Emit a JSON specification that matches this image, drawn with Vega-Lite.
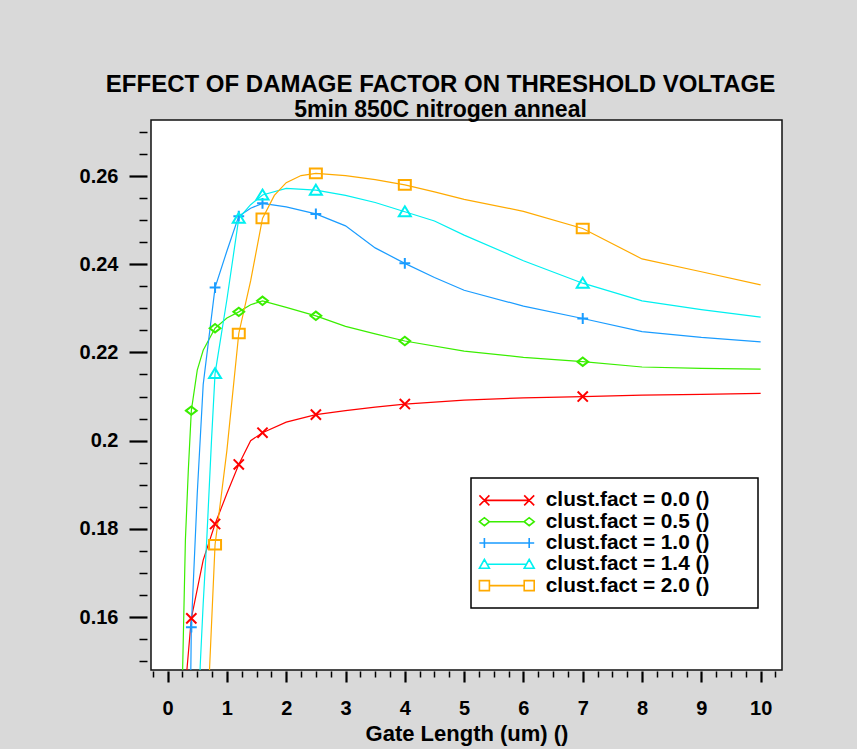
{
  "$schema": "https://vega.github.io/schema/vega-lite/v6.json",
  "autosize": {"type": "none"},
  "padding": {"left": 151, "top": 120, "right": 75, "bottom": 79},
  "width": 631,
  "height": 550,
  "background": "#D9D9D9",
  "title": {
    "text": "EFFECT OF DAMAGE FACTOR ON THRESHOLD VOLTAGE",
    "subtitle": "5min 850C nitrogen anneal",
    "font": "Liberation Sans",
    "subtitleFont": "Liberation Sans",
    "fontSize": 24,
    "subtitleFontSize": 23,
    "fontWeight": "bold",
    "subtitleFontWeight": "bold",
    "color": "black",
    "subtitleColor": "black",
    "anchor": "middle",
    "dx": -26,
    "offset": -2,
    "subtitlePadding": 2
  },
  "datasets": {
    "curves": [
      {"series": "clust.fact = 0.0 ()", "length": 0.3, "vt": 0.144},
      {"series": "clust.fact = 0.0 ()", "length": 0.4, "vt": 0.1597},
      {"series": "clust.fact = 0.0 ()", "length": 0.6, "vt": 0.1729},
      {"series": "clust.fact = 0.0 ()", "length": 0.8, "vt": 0.1811},
      {"series": "clust.fact = 0.0 ()", "length": 1.0, "vt": 0.188},
      {"series": "clust.fact = 0.0 ()", "length": 1.2, "vt": 0.1946},
      {"series": "clust.fact = 0.0 ()", "length": 1.4, "vt": 0.2},
      {"series": "clust.fact = 0.0 ()", "length": 1.6, "vt": 0.2018},
      {"series": "clust.fact = 0.0 ()", "length": 2.0, "vt": 0.2042},
      {"series": "clust.fact = 0.0 ()", "length": 2.5, "vt": 0.2059},
      {"series": "clust.fact = 0.0 ()", "length": 3.0, "vt": 0.2068},
      {"series": "clust.fact = 0.0 ()", "length": 3.5, "vt": 0.2076},
      {"series": "clust.fact = 0.0 ()", "length": 4.0, "vt": 0.2083},
      {"series": "clust.fact = 0.0 ()", "length": 5.0, "vt": 0.2092},
      {"series": "clust.fact = 0.0 ()", "length": 6.0, "vt": 0.2097},
      {"series": "clust.fact = 0.0 ()", "length": 7.0, "vt": 0.21},
      {"series": "clust.fact = 0.0 ()", "length": 8.0, "vt": 0.2103},
      {"series": "clust.fact = 0.0 ()", "length": 9.0, "vt": 0.2105},
      {"series": "clust.fact = 0.0 ()", "length": 10.0, "vt": 0.2107},

      {"series": "clust.fact = 0.5 ()", "length": 0.25, "vt": 0.146},
      {"series": "clust.fact = 0.5 ()", "length": 0.3, "vt": 0.1775},
      {"series": "clust.fact = 0.5 ()", "length": 0.35, "vt": 0.1935},
      {"series": "clust.fact = 0.5 ()", "length": 0.4, "vt": 0.2068},
      {"series": "clust.fact = 0.5 ()", "length": 0.5, "vt": 0.216},
      {"series": "clust.fact = 0.5 ()", "length": 0.6, "vt": 0.2205},
      {"series": "clust.fact = 0.5 ()", "length": 0.8, "vt": 0.2255},
      {"series": "clust.fact = 0.5 ()", "length": 1.0, "vt": 0.2278},
      {"series": "clust.fact = 0.5 ()", "length": 1.2, "vt": 0.2292},
      {"series": "clust.fact = 0.5 ()", "length": 1.4, "vt": 0.2308},
      {"series": "clust.fact = 0.5 ()", "length": 1.6, "vt": 0.2317},
      {"series": "clust.fact = 0.5 ()", "length": 2.0, "vt": 0.2302},
      {"series": "clust.fact = 0.5 ()", "length": 2.5, "vt": 0.2283},
      {"series": "clust.fact = 0.5 ()", "length": 3.0, "vt": 0.2259},
      {"series": "clust.fact = 0.5 ()", "length": 3.5, "vt": 0.2242},
      {"series": "clust.fact = 0.5 ()", "length": 4.0, "vt": 0.2226},
      {"series": "clust.fact = 0.5 ()", "length": 5.0, "vt": 0.2203},
      {"series": "clust.fact = 0.5 ()", "length": 6.0, "vt": 0.2189},
      {"series": "clust.fact = 0.5 ()", "length": 7.0, "vt": 0.2179},
      {"series": "clust.fact = 0.5 ()", "length": 8.0, "vt": 0.2167},
      {"series": "clust.fact = 0.5 ()", "length": 9.0, "vt": 0.2164},
      {"series": "clust.fact = 0.5 ()", "length": 10.0, "vt": 0.2162},

      {"series": "clust.fact = 1.0 ()", "length": 0.38, "vt": 0.135},
      {"series": "clust.fact = 1.0 ()", "length": 0.4, "vt": 0.1577},
      {"series": "clust.fact = 1.0 ()", "length": 0.5, "vt": 0.188},
      {"series": "clust.fact = 1.0 ()", "length": 0.6, "vt": 0.2127},
      {"series": "clust.fact = 1.0 ()", "length": 0.8, "vt": 0.2347},
      {"series": "clust.fact = 1.0 ()", "length": 1.0, "vt": 0.243},
      {"series": "clust.fact = 1.0 ()", "length": 1.2, "vt": 0.2509},
      {"series": "clust.fact = 1.0 ()", "length": 1.4, "vt": 0.2527},
      {"series": "clust.fact = 1.0 ()", "length": 1.6, "vt": 0.2538},
      {"series": "clust.fact = 1.0 ()", "length": 2.0, "vt": 0.253},
      {"series": "clust.fact = 1.0 ()", "length": 2.5, "vt": 0.2514},
      {"series": "clust.fact = 1.0 ()", "length": 3.0, "vt": 0.2487},
      {"series": "clust.fact = 1.0 ()", "length": 3.5, "vt": 0.2437},
      {"series": "clust.fact = 1.0 ()", "length": 4.0, "vt": 0.2402},
      {"series": "clust.fact = 1.0 ()", "length": 4.5, "vt": 0.237},
      {"series": "clust.fact = 1.0 ()", "length": 5.0, "vt": 0.2341},
      {"series": "clust.fact = 1.0 ()", "length": 6.0, "vt": 0.2305},
      {"series": "clust.fact = 1.0 ()", "length": 7.0, "vt": 0.2277},
      {"series": "clust.fact = 1.0 ()", "length": 8.0, "vt": 0.2247},
      {"series": "clust.fact = 1.0 ()", "length": 9.0, "vt": 0.2234},
      {"series": "clust.fact = 1.0 ()", "length": 10.0, "vt": 0.2224},

      {"series": "clust.fact = 1.4 ()", "length": 0.52, "vt": 0.135},
      {"series": "clust.fact = 1.4 ()", "length": 0.55, "vt": 0.149},
      {"series": "clust.fact = 1.4 ()", "length": 0.6, "vt": 0.163},
      {"series": "clust.fact = 1.4 ()", "length": 0.66, "vt": 0.1775},
      {"series": "clust.fact = 1.4 ()", "length": 0.74, "vt": 0.2},
      {"series": "clust.fact = 1.4 ()", "length": 0.8, "vt": 0.2152},
      {"series": "clust.fact = 1.4 ()", "length": 1.0, "vt": 0.232},
      {"series": "clust.fact = 1.4 ()", "length": 1.2, "vt": 0.2504},
      {"series": "clust.fact = 1.4 ()", "length": 1.4, "vt": 0.2535},
      {"series": "clust.fact = 1.4 ()", "length": 1.6, "vt": 0.2557},
      {"series": "clust.fact = 1.4 ()", "length": 2.0, "vt": 0.2572},
      {"series": "clust.fact = 1.4 ()", "length": 2.5, "vt": 0.2568},
      {"series": "clust.fact = 1.4 ()", "length": 3.0, "vt": 0.2556},
      {"series": "clust.fact = 1.4 ()", "length": 3.5, "vt": 0.254},
      {"series": "clust.fact = 1.4 ()", "length": 4.0, "vt": 0.2519},
      {"series": "clust.fact = 1.4 ()", "length": 4.5, "vt": 0.2498},
      {"series": "clust.fact = 1.4 ()", "length": 5.0, "vt": 0.2466},
      {"series": "clust.fact = 1.4 ()", "length": 6.0, "vt": 0.2408},
      {"series": "clust.fact = 1.4 ()", "length": 7.0, "vt": 0.2357},
      {"series": "clust.fact = 1.4 ()", "length": 8.0, "vt": 0.2317},
      {"series": "clust.fact = 1.4 ()", "length": 9.0, "vt": 0.2297},
      {"series": "clust.fact = 1.4 ()", "length": 10.0, "vt": 0.228},

      {"series": "clust.fact = 2.0 ()", "length": 0.66, "vt": 0.135},
      {"series": "clust.fact = 2.0 ()", "length": 0.7, "vt": 0.146},
      {"series": "clust.fact = 2.0 ()", "length": 0.8, "vt": 0.1764},
      {"series": "clust.fact = 2.0 ()", "length": 0.9, "vt": 0.187},
      {"series": "clust.fact = 2.0 ()", "length": 1.0, "vt": 0.1978},
      {"series": "clust.fact = 2.0 ()", "length": 1.2, "vt": 0.2243},
      {"series": "clust.fact = 2.0 ()", "length": 1.4, "vt": 0.2362},
      {"series": "clust.fact = 2.0 ()", "length": 1.6, "vt": 0.2504},
      {"series": "clust.fact = 2.0 ()", "length": 1.8, "vt": 0.2556},
      {"series": "clust.fact = 2.0 ()", "length": 2.0, "vt": 0.2585},
      {"series": "clust.fact = 2.0 ()", "length": 2.25, "vt": 0.2601},
      {"series": "clust.fact = 2.0 ()", "length": 2.5, "vt": 0.2606},
      {"series": "clust.fact = 2.0 ()", "length": 3.0, "vt": 0.2601},
      {"series": "clust.fact = 2.0 ()", "length": 3.5, "vt": 0.2592},
      {"series": "clust.fact = 2.0 ()", "length": 4.0, "vt": 0.258},
      {"series": "clust.fact = 2.0 ()", "length": 4.5, "vt": 0.2564},
      {"series": "clust.fact = 2.0 ()", "length": 5.0, "vt": 0.2547},
      {"series": "clust.fact = 2.0 ()", "length": 6.0, "vt": 0.252},
      {"series": "clust.fact = 2.0 ()", "length": 7.0, "vt": 0.2481},
      {"series": "clust.fact = 2.0 ()", "length": 8.0, "vt": 0.2412},
      {"series": "clust.fact = 2.0 ()", "length": 9.0, "vt": 0.2383},
      {"series": "clust.fact = 2.0 ()", "length": 10.0, "vt": 0.2353}
    ],
    "markers": [
      {"series": "clust.fact = 0.0 ()", "length": 0.4, "vt": 0.1597},
      {"series": "clust.fact = 0.0 ()", "length": 0.8, "vt": 0.1811},
      {"series": "clust.fact = 0.0 ()", "length": 1.2, "vt": 0.1946},
      {"series": "clust.fact = 0.0 ()", "length": 1.6, "vt": 0.2018},
      {"series": "clust.fact = 0.0 ()", "length": 2.5, "vt": 0.2059},
      {"series": "clust.fact = 0.0 ()", "length": 4.0, "vt": 0.2083},
      {"series": "clust.fact = 0.0 ()", "length": 7.0, "vt": 0.21},
      {"series": "clust.fact = 0.5 ()", "length": 0.4, "vt": 0.2068},
      {"series": "clust.fact = 0.5 ()", "length": 0.8, "vt": 0.2255},
      {"series": "clust.fact = 0.5 ()", "length": 1.2, "vt": 0.2292},
      {"series": "clust.fact = 0.5 ()", "length": 1.6, "vt": 0.2317},
      {"series": "clust.fact = 0.5 ()", "length": 2.5, "vt": 0.2283},
      {"series": "clust.fact = 0.5 ()", "length": 4.0, "vt": 0.2226},
      {"series": "clust.fact = 0.5 ()", "length": 7.0, "vt": 0.2179},
      {"series": "clust.fact = 1.0 ()", "length": 0.4, "vt": 0.1577},
      {"series": "clust.fact = 1.0 ()", "length": 0.8, "vt": 0.2347},
      {"series": "clust.fact = 1.0 ()", "length": 1.2, "vt": 0.2509},
      {"series": "clust.fact = 1.0 ()", "length": 1.6, "vt": 0.2538},
      {"series": "clust.fact = 1.0 ()", "length": 2.5, "vt": 0.2514},
      {"series": "clust.fact = 1.0 ()", "length": 4.0, "vt": 0.2402},
      {"series": "clust.fact = 1.0 ()", "length": 7.0, "vt": 0.2277},
      {"series": "clust.fact = 1.4 ()", "length": 0.8, "vt": 0.2152},
      {"series": "clust.fact = 1.4 ()", "length": 1.2, "vt": 0.2504},
      {"series": "clust.fact = 1.4 ()", "length": 1.6, "vt": 0.2557},
      {"series": "clust.fact = 1.4 ()", "length": 2.5, "vt": 0.2568},
      {"series": "clust.fact = 1.4 ()", "length": 4.0, "vt": 0.2519},
      {"series": "clust.fact = 1.4 ()", "length": 7.0, "vt": 0.2357},
      {"series": "clust.fact = 2.0 ()", "length": 0.8, "vt": 0.1764},
      {"series": "clust.fact = 2.0 ()", "length": 1.2, "vt": 0.2243},
      {"series": "clust.fact = 2.0 ()", "length": 1.6, "vt": 0.2504},
      {"series": "clust.fact = 2.0 ()", "length": 2.5, "vt": 0.2606},
      {"series": "clust.fact = 2.0 ()", "length": 4.0, "vt": 0.258},
      {"series": "clust.fact = 2.0 ()", "length": 7.0, "vt": 0.2481}
    ]
  },
  "encoding": {
    "x": {
      "field": "length",
      "type": "quantitative",
      "scale": {"domain": [-0.28, 10.36], "nice": false, "zero": false},
      "axis": {
        "title": "Gate Length (um) ()",
        "values": [-0.25, 0, 0.25, 0.5, 0.75, 1, 1.25, 1.5, 1.75, 2, 2.25, 2.5, 2.75, 3, 3.25, 3.5, 3.75, 4, 4.25, 4.5, 4.75, 5, 5.25, 5.5, 5.75, 6, 6.25, 6.5, 6.75, 7, 7.25, 7.5, 7.75, 8, 8.25, 8.5, 8.75, 9, 9.25, 9.5, 9.75, 10, 10.25],
        "labelExpr": "datum.value % 1 === 0 ? format(datum.value, 'd') : ''",
        "tickSize": {"condition": {"test": "datum.value % 1 === 0", "value": 11}, "value": 6},
        "tickWidth": {"condition": {"test": "datum.value % 1 === 0", "value": 2.2}, "value": 1.5},
        "offset": 1,
        "labelPadding": 16,
        "titlePadding": 5,
        "titleFontSize": 22
      }
    },
    "y": {
      "field": "vt",
      "type": "quantitative",
      "scale": {"domain": [0.148, 0.2727], "nice": false, "zero": false},
      "axis": {
        "title": null,
        "values": [0.15, 0.155, 0.16, 0.165, 0.17, 0.175, 0.18, 0.185, 0.19, 0.195, 0.2, 0.205, 0.21, 0.215, 0.22, 0.225, 0.23, 0.235, 0.24, 0.245, 0.25, 0.255, 0.26, 0.265, 0.27],
        "labelExpr": "abs(datum.value * 50 - round(datum.value * 50)) < 0.001 ? format(datum.value, '~g') : ''",
        "tickSize": {"condition": {"test": "abs(datum.value * 50 - round(datum.value * 50)) < 0.001", "value": 18}, "value": 8},
        "tickWidth": {"condition": {"test": "abs(datum.value * 50 - round(datum.value * 50)) < 0.001", "value": 2.2}, "value": 1.5},
        "offset": 4,
        "labelPadding": 11
      }
    },
    "color": {
      "field": "series",
      "type": "nominal",
      "scale": {"range": ["#FF0000", "#3AEE00", "#1A9CFF", "#00F0F0", "#FFAA00"]},
      "legend": {
        "title": null,
        "orient": "none",
        "legendX": 320,
        "legendY": 358,
        "fillColor": "white",
        "strokeColor": "black",
        "padding": 12,
        "rowPadding": -0.7,
        "symbolSize": 100,
        "symbolOffset": 0,
        "symbolStrokeWidth": 1.6,
        "labelOffset": 42,
        "labelLimit": 400,
        "labelFont": "Liberation Sans",
        "labelFontSize": 20.8,
        "labelFontWeight": "bold",
        "labelColor": "black",
        "encode": {
          "legend": {"update": {"strokeWidth": {"value": 1.5}}},
          "symbols": {
            "update": {
              "fill": {"value": "transparent"},
              "stroke": {"scale": "color", "field": "value"},
              "shape": {"signal": "datum.value == 'clust.fact = 0.0 ()' ? 'M-2.8,-1L-0.8,1M-2.8,1L-0.8,-1M6.16,-1L8.16,1M6.16,1L8.16,-1M-1.8,0L7.16,0M49.8,0' : datum.value == 'clust.fact = 0.5 ()' ? 'M-2.8,0L-1.8,-0.8L-0.8,0L-1.8,0.8ZM6.16,0L7.16,-0.8L8.16,0L7.16,0.8ZM-0.8,0L6.16,0M49.8,0' : datum.value == 'clust.fact = 1.0 ()' ? 'M-2.8,0L-0.8,0M-1.8,-1L-1.8,1M6.16,0L8.16,0M7.16,-1L7.16,1M-1.8,0L7.16,0M49.8,0' : datum.value == 'clust.fact = 1.4 ()' ? 'M-1.8,-1L-0.8,0.8L-2.8,0.8ZM7.16,-1L8.16,0.8L6.16,0.8ZM-1.25,0L6.61,0M49.8,0' : 'M-2.8,-1L-0.8,-1L-0.8,1L-2.8,1ZM6.16,-1L8.16,-1L8.16,1L6.16,1ZM-0.8,0L6.16,0M49.8,0'"}
            }
          }
        }
      }
    }
  },
  "layer": [
    {
      "data": {"name": "curves"},
      "mark": {"type": "line", "strokeWidth": 1.2, "clip": true}
    },
    {
      "data": {"name": "markers"},
      "mark": {"type": "point", "filled": false, "strokeWidth": 2, "size": 144, "opacity": 1, "clip": true},
      "encoding": {
        "shape": {
          "field": "series",
          "type": "nominal",
          "legend": null,
          "scale": {"range": [
            "M-0.85,-0.85L0.85,0.85M-0.85,0.85L0.85,-0.85",
            "M-0.9,0L0,-0.7L0.9,0L0,0.7Z",
            "M-0.9,0L0.9,0M0,-0.9L0,0.9",
            "M0,-0.9L1,0.75L-1,0.75Z",
            "M-1,-0.8L1,-0.8L1,0.8L-1,0.8Z"
          ]}
        }
      }
    }
  ],
  "config": {
    "font": "Liberation Sans",
    "view": {"fill": "white", "stroke": "#111111", "strokeWidth": 1.5},
    "axis": {
      "domain": false,
      "grid": false,
      "tickColor": "black",
      "labelFont": "Liberation Sans",
      "labelFontSize": 20,
      "labelFontWeight": "bold",
      "labelColor": "black",
      "labelOverlap": false,
      "labelFlush": false,
      "titleFont": "Liberation Sans",
      "titleFontSize": 21,
      "titleFontWeight": "bold",
      "titleColor": "black"
    }
  }
}
